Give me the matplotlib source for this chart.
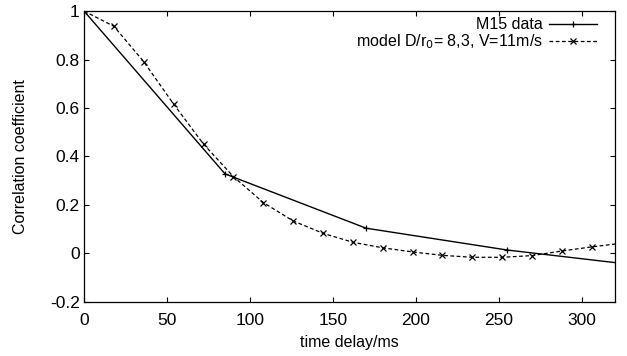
import numpy as np
import matplotlib.pyplot as plt

plt.rcParams["font.family"] = ["Liberation Sans", "DejaVu Sans"]

# --------------------------------------------------
# Data
# --------------------------------------------------
data_t = [0, 85, 170, 255, 340]
data_corr = [1.0, 0.328, 0.104, 0.014, -0.054]

model_t = [0, 18, 36, 54, 72, 90, 108, 126, 144, 162, 180,
           198, 216, 234, 252, 270, 288, 306, 324]
model_corr = [1.0, 0.937, 0.791, 0.616, 0.451, 0.317, 0.210, 0.134, 0.083,
              0.046, 0.023, 0.006, -0.008, -0.016, -0.016, -0.009, 0.010,
              0.027, 0.042]

# --------------------------------------------------
# Plot
# --------------------------------------------------
fig = plt.figure(figsize=(6.27, 3.56), dpi=100)
ax = fig.add_axes([0.134, 0.152, 0.847, 0.817])

ax.plot(data_t, data_corr, color="black", lw=1.0, marker="+", ms=5,
        mew=0.9, label="M15 data")
ax.plot(model_t, model_corr, color="black", lw=0.9, ls=(0, (3, 2)),
        marker="x", ms=4.5, mew=0.9,
        label="model D/r$_0$= 8,3, V=11m/s")

ax.set_xlim(0, 320)
ax.set_ylim(-0.2, 1.0)
ax.set_xticks([0, 50, 100, 150, 200, 250, 300])
ax.set_yticks([-0.2, 0, 0.2, 0.4, 0.6, 0.8, 1])
ax.set_yticklabels(["-0.2", "0", "0.2", "0.4", "0.6", "0.8", "1"])
ax.tick_params(direction="in", top=True, right=True, length=3.6,
               width=0.8, labelsize=12.5)
ax.tick_params(axis="x", pad=8)
ax.tick_params(axis="y", pad=3)
for s in ax.spines.values():
    s.set_linewidth(0.9)

ax.set_xlabel("time delay/ms", fontsize=11.5, labelpad=5)
ax.set_ylabel("Correlation coefficient", fontsize=11.5, labelpad=16)

leg = ax.legend(loc="upper right", bbox_to_anchor=(0.975, 0.995),
                frameon=False, markerfirst=False,
                fontsize=11.5, handlelength=3.0, handletextpad=0.4,
                labelspacing=0.0, borderaxespad=0.0, borderpad=0.3)
for col in leg._legend_handle_box.get_children():
    col.align = "right"

fig.savefig("out.png", dpi=100)
